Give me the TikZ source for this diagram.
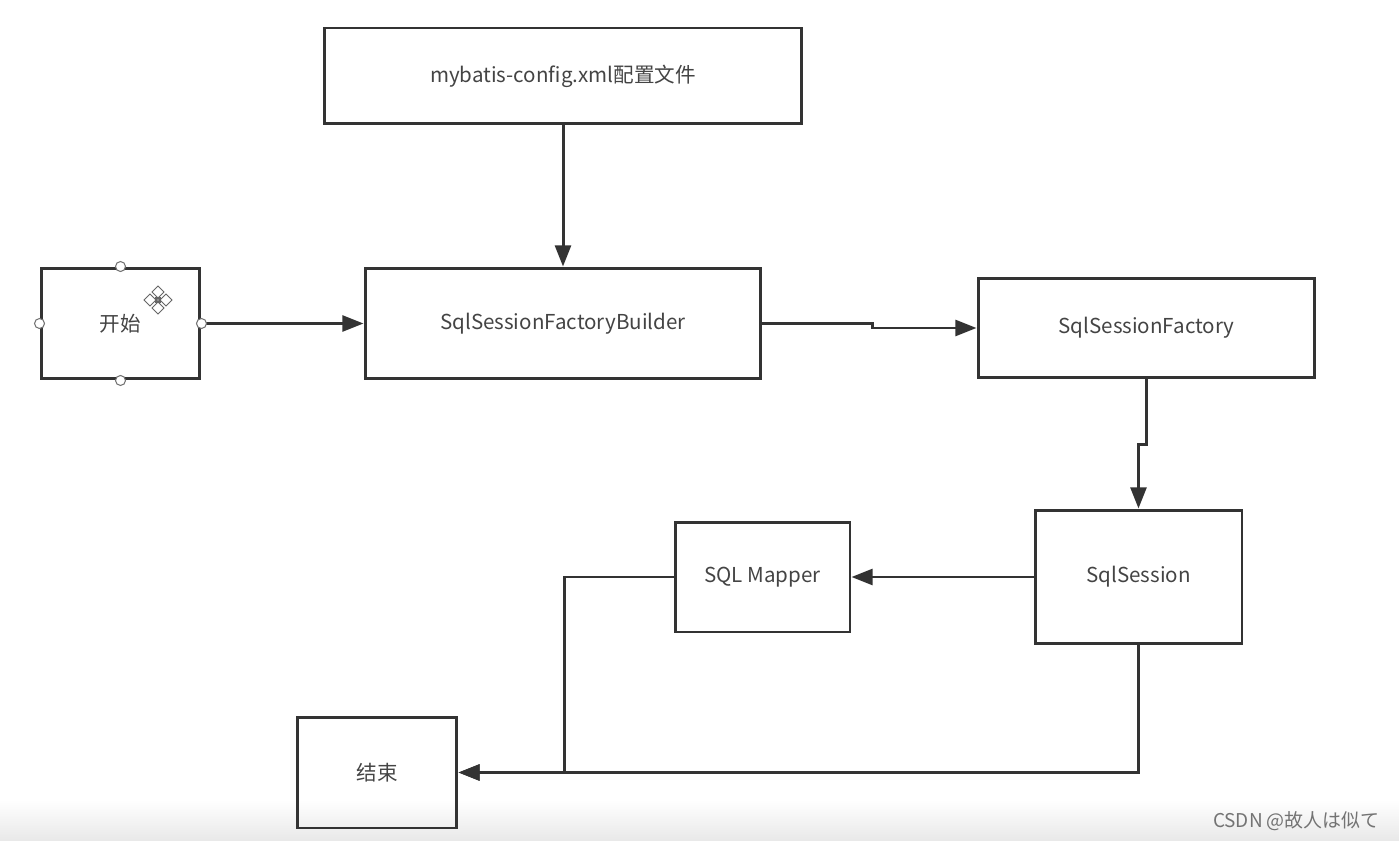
\documentclass[tikz,border=0pt]{standalone}
\usepackage{fontspec}
\setmainfont{Noto Sans CJK SC}
\usetikzlibrary{arrows.meta}
\definecolor{linegray}{HTML}{333333}
\definecolor{textgray}{HTML}{444444}
\begin{document}
\begin{tikzpicture}[x=0.02cm, y=-0.02cm,
    box/.style={draw=linegray, line width=1.7pt, text=textgray, inner sep=0pt,
      font=\fontsize{11.7}{14}\selectfont},
    flow/.style={draw=linegray, line width=1.7pt,
      -{Triangle[length=12pt,width=9pt]}},
    handle/.style={circle, draw=black!55, fill=white, line width=0.6pt,
      inner sep=0pt, minimum size=0.2cm},
    moveicon/.style={draw=black!60, fill=white, line width=0.6pt}]
    \useasboundingbox (0,0) rectangle (1399,841);
    \shade[top color=white, bottom color=black!9] (0,800) rectangle (1399,841);

    \node[box, minimum width=9.56cm, minimum height=1.92cm] (config) at (563,76) {mybatis-config.xml配置文件};
    \node[box, minimum width=3.18cm, minimum height=2.22cm] (start) at (120.5,323.5) {开始};
    \node[box, minimum width=7.92cm, minimum height=2.22cm] (builder) at (563,323.5) {SqlSessionFactoryBuilder};
    \node[box, minimum width=6.74cm, minimum height=2cm] (factory) at (1146.5,328) {SqlSessionFactory};
    \node[box, minimum width=4.14cm, minimum height=2.68cm] (session) at (1138.5,577) {SqlSession};
    \node[box, minimum width=3.5cm, minimum height=2.2cm] (mapper) at (762.5,577) {SQL Mapper};
    \node[box, minimum width=3.2cm, minimum height=2.22cm] (end) at (377,772.5) {结束};

    \draw[flow] (config) -- (builder);
    \draw[flow] (start) -- (builder);
    \draw[flow] (builder.east) -- ++(110,0) |- (factory.west);
    \draw[flow] (factory.south) -- ++(0,65) -| (session.north);
    \draw[flow] (session.west) -- (mapper.east);
    \draw[flow] (mapper.west) -- ++(-109,0) |- (end.east);
    \draw[flow] (session.south) |- (end.east);

    \foreach \a in {north,south,east,west}
      \node[handle] at (start.\a) {};
    \foreach \dx/\dy in {0/-8,0/8,-8/0,8/0}
      \draw[moveicon] (158+\dx,294+\dy) -- (164+\dx,300+\dy) -- (158+\dx,306+\dy) -- (152+\dx,300+\dy) -- cycle;
    \draw[moveicon, fill=black!45] (156,298) rectangle (160,302);

    \node[text=black!55, font=\fontsize{10.8}{13}\selectfont, anchor=east] (mark) at (1386,821) {CSDN @故人は似て};
\end{tikzpicture}
\end{document}
